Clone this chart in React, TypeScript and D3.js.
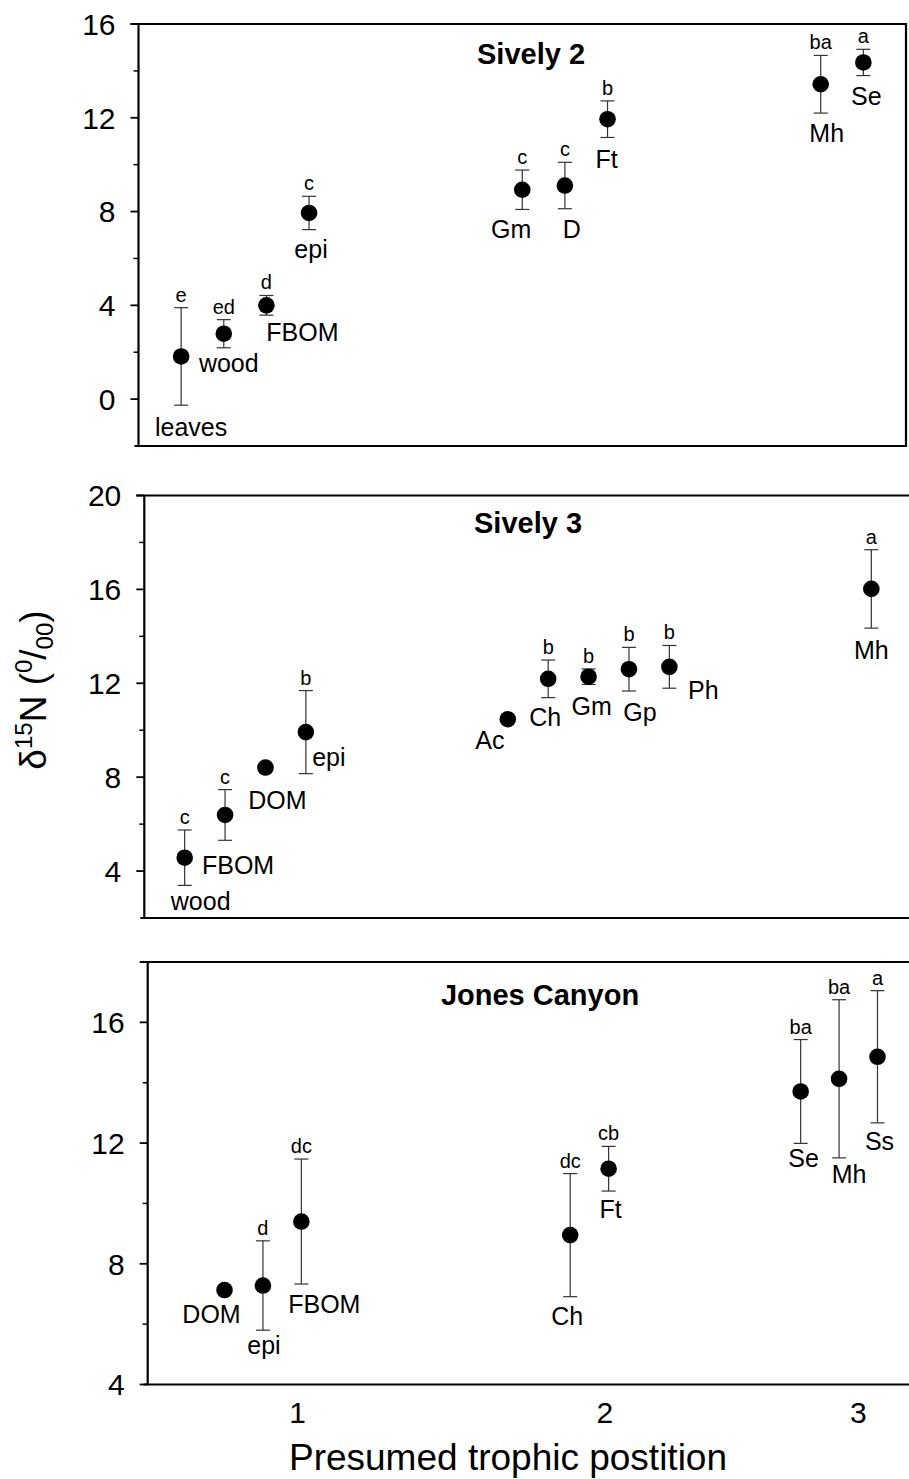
import React, { useEffect, useRef } from "react";
import * as d3 from "d3";

// Sively 2
const s2Taxa = ["leaves", "wood", "FBOM", "epi", "Gm", "D", "Ft", "Mh", "Se"];
const s2Slot = [0, 1, 2, 3, 8, 9, 10, 15, 16];
const s2Mean = [1.82, 2.79, 4.0, 7.94, 8.93, 9.11, 11.94, 13.43, 14.36];
const s2Sd = [2.08, 0.6, 0.42, 0.71, 0.84, 0.99, 0.78, 1.23, 0.56];
const s2Group = ["e", "ed", "d", "c", "c", "c", "b", "ba", "a"];

// Sively 3
const s3Taxa = ["wood", "FBOM", "DOM", "epi", "Ac", "Ch", "Gm", "Gp", "Ph", "Mh"];
const s3Slot = [0, 1, 2, 3, 8, 9, 10, 11, 12, 17];
const s3Mean = [4.57, 6.39, 8.41, 9.92, 10.47, 12.19, 12.28, 12.6, 12.7, 16.02];
const s3Sd = [1.18, 1.08, null, 1.77, null, 0.8, 0.33, 0.93, 0.91, 1.67];
const s3Group = ["c", "c", "", "b", "", "b", "b", "b", "b", "a"];

// Jones Canyon
const jcTaxa = ["DOM", "epi", "FBOM", "Ch", "Ft", "Se", "Mh", "Ss"];
const jcSlot = [0, 1, 2, 9, 10, 15, 16, 17];
const jcMean = [7.13, 7.28, 9.4, 8.95, 11.15, 13.71, 14.13, 14.86];
const jcSd = [null, 1.48, 2.07, 2.04, 0.74, 1.72, 2.62, 2.19];
const jcGroup = ["", "d", "dc", "dc", "cb", "ba", "ba", "a"];

// trophic position tick labels (bottom panel)
const trophicTicks = ["1", "2", "3"];
const trophicSlot = [1.9, 9.9, 16.5];

// where each taxon name sits relative to its dot (px)
const s2NameOff = [[10, 80], [5, 38], [36, 36], [2, 45], [-11, 48], [7, 52], [-1, 49], [6, 58], [3, 43]];
const s3NameOff = [[16, 52], [13, 59], [12, 41], [23, 34], [-18, 30], [-3, 47], [3, 38], [11, 52], [34, 32], [0, 70]];
const jcNameOff = [[-13, 33], [1, 68], [23, 91], [-3, 90], [2, 49], [3, 76], [10, 104], [2, 93]];

const FONT = "'Liberation Sans', Arial, Helvetica, sans-serif";

type Panel = {
  title: string;
  titleX: number;
  titleY: number;
  taxa: string[];
  slot: number[];
  mean: number[];
  sd: (number | null)[];
  group: string[];
  nameOff: number[][];
  yDomain: [number, number];
  yRange: [number, number];
  xDomain: [number, number];
  xRange: [number, number];
  major: number[];
  minor: number[];
  rightBorder: boolean;
};

const panels: Panel[] = [
  {
    title: "Sively 2", titleX: 531, titleY: 64,
    taxa: s2Taxa, slot: s2Slot, mean: s2Mean, sd: s2Sd, group: s2Group, nameOff: s2NameOff,
    yDomain: [-2, 16], yRange: [446, 24], xDomain: [-1, 17], xRange: [138.5, 906],
    major: [0, 4, 8, 12, 16], minor: [2, 6, 10, 14], rightBorder: true,
  },
  {
    title: "Sively 3", titleX: 528, titleY: 533,
    taxa: s3Taxa, slot: s3Slot, mean: s3Mean, sd: s3Sd, group: s3Group, nameOff: s3NameOff,
    yDomain: [2, 20], yRange: [918, 495.5], xDomain: [-1, 18], xRange: [144.3, 911.7],
    major: [4, 8, 12, 16, 20], minor: [6, 10, 14, 18], rightBorder: false,
  },
  {
    title: "Jones Canyon", titleX: 540, titleY: 1005,
    taxa: jcTaxa, slot: jcSlot, mean: jcMean, sd: jcSd, group: jcGroup, nameOff: jcNameOff,
    yDomain: [4, 18], yRange: [1384.5, 962], xDomain: [-2, 18], xRange: [147.7, 915.9],
    major: [4, 8, 12, 16], minor: [6, 10, 14], rightBorder: false,
  },
];

const App = () => {
  const svgRef = useRef<SVGSVGElement>(null);

  useEffect(() => {
    const svg = d3.select(svgRef.current);
    svg.selectAll("*").remove();
    const W = 909;

    panels.forEach((p, pi) => {
      const y = d3.scaleLinear().domain(p.yDomain).range(p.yRange);
      const x = d3.scaleLinear().domain(p.xDomain).range(p.xRange);
      const left = p.xRange[0];
      const top = p.yRange[1];
      const bottom = p.yRange[0];
      const right = p.rightBorder ? p.xRange[1] : W + 2;
      const g = svg.append("g");

      // frame
      const frame = g.append("g").attr("stroke", "#000").attr("stroke-width", 2.2).attr("fill", "none");
      frame.append("line").attr("x1", left - 8).attr("x2", right).attr("y1", top).attr("y2", top);
      frame.append("line").attr("x1", left - 4).attr("x2", right).attr("y1", bottom).attr("y2", bottom);
      frame.append("line").attr("x1", left).attr("x2", left).attr("y1", top).attr("y2", bottom);
      if (p.rightBorder)
        frame.append("line").attr("x1", right).attr("x2", right).attr("y1", top - 1).attr("y2", bottom + 1);

      // y ticks
      g.selectAll(".maj")
        .data(p.major)
        .join("line")
        .attr("x1", left - 8)
        .attr("x2", left)
        .attr("y1", (d) => y(d))
        .attr("y2", (d) => y(d))
        .attr("stroke", "#000")
        .attr("stroke-width", 1.8);
      g.selectAll(".min")
        .data(p.minor)
        .join("line")
        .attr("x1", left - 5)
        .attr("x2", left)
        .attr("y1", (d) => y(d))
        .attr("y2", (d) => y(d))
        .attr("stroke", "#000")
        .attr("stroke-width", 1.5);
      g.selectAll(".ylab")
        .data(p.major)
        .join("text")
        .attr("x", left - 23)
        .attr("y", (d) => y(d))
        .attr("dy", "0.36em")
        .attr("text-anchor", "end")
        .style("font-family", FONT)
        .style("font-size", "30px")
        .text((d) => d);

      // title
      g.append("text")
        .attr("x", p.titleX)
        .attr("y", p.titleY)
        .attr("text-anchor", "middle")
        .style("font-family", FONT)
        .style("font-size", "29px")
        .style("font-weight", "bold")
        .text(p.title);

      const idx = p.taxa.map((_, i) => i);
      const withSd = idx.filter((i) => p.sd[i] != null);

      // error bars
      const eb = g.append("g").attr("stroke", "#333").attr("stroke-width", 1.2);
      withSd.forEach((i) => {
        const cx = x(p.slot[i]);
        const hi = y(p.mean[i] + (p.sd[i] as number));
        const lo = y(p.mean[i] - (p.sd[i] as number));
        eb.append("line").attr("x1", cx).attr("x2", cx).attr("y1", hi).attr("y2", lo);
        eb.append("line").attr("x1", cx - 7).attr("x2", cx + 7).attr("y1", hi).attr("y2", hi);
        eb.append("line").attr("x1", cx - 7).attr("x2", cx + 7).attr("y1", lo).attr("y2", lo);
      });

      // dots
      g.selectAll(".dot")
        .data(idx)
        .join("circle")
        .attr("cx", (i) => x(p.slot[i]))
        .attr("cy", (i) => y(p.mean[i]))
        .attr("r", 8.3)
        .attr("fill", "#000");

      // significance letters
      g.selectAll(".grp")
        .data(withSd)
        .join("text")
        .attr("x", (i) => x(p.slot[i]))
        .attr("y", (i) => y(p.mean[i] + (p.sd[i] as number)) - 6)
        .attr("text-anchor", "middle")
        .style("font-family", FONT)
        .style("font-size", "20px")
        .text((i) => p.group[i]);

      // taxon names
      g.selectAll(".name")
        .data(idx)
        .join("text")
        .attr("x", (i) => x(p.slot[i]) + p.nameOff[i][0])
        .attr("y", (i) => y(p.mean[i]) + p.nameOff[i][1])
        .attr("text-anchor", "middle")
        .style("font-family", FONT)
        .style("font-size", "25px")
        .text((i) => p.taxa[i]);

      // x tick labels on the bottom panel only
      if (pi === panels.length - 1) {
        g.selectAll(".xlab")
          .data(trophicTicks)
          .join("text")
          .attr("x", (d, i) => x(trophicSlot[i]))
          .attr("y", bottom + 38)
          .attr("text-anchor", "middle")
          .style("font-family", FONT)
          .style("font-size", "30px")
          .text((d) => d);
        g.append("text")
          .attr("x", 508)
          .attr("y", 1470)
          .attr("text-anchor", "middle")
          .style("font-family", FONT)
          .style("font-size", "37px")
          .text("Presumed trophic postition");
      }
    });

    // y axis title: δ15N (0/00)
    const yt = svg
      .append("text")
      .attr("transform", "translate(46,690) rotate(-90)")
      .attr("text-anchor", "middle")
      .style("font-family", FONT)
      .style("font-size", "37px");
    yt.append("tspan").text("δ");
    yt.append("tspan").attr("dy", -14).style("font-size", "24px").text("15");
    yt.append("tspan").attr("dy", 14).text("N (");
    yt.append("tspan").attr("dy", -14).style("font-size", "24px").text("0");
    yt.append("tspan").attr("dy", 14).text("/");
    yt.append("tspan").attr("dy", 7).style("font-size", "24px").text("00");
    yt.append("tspan").attr("dy", -7).text(")");
  }, []);

  return (
    <svg
      ref={svgRef}
      width={909}
      height={1479}
      style={{ position: "absolute", left: 0, top: 0, background: "#fff" }}
    />
  );
};

export default App;
